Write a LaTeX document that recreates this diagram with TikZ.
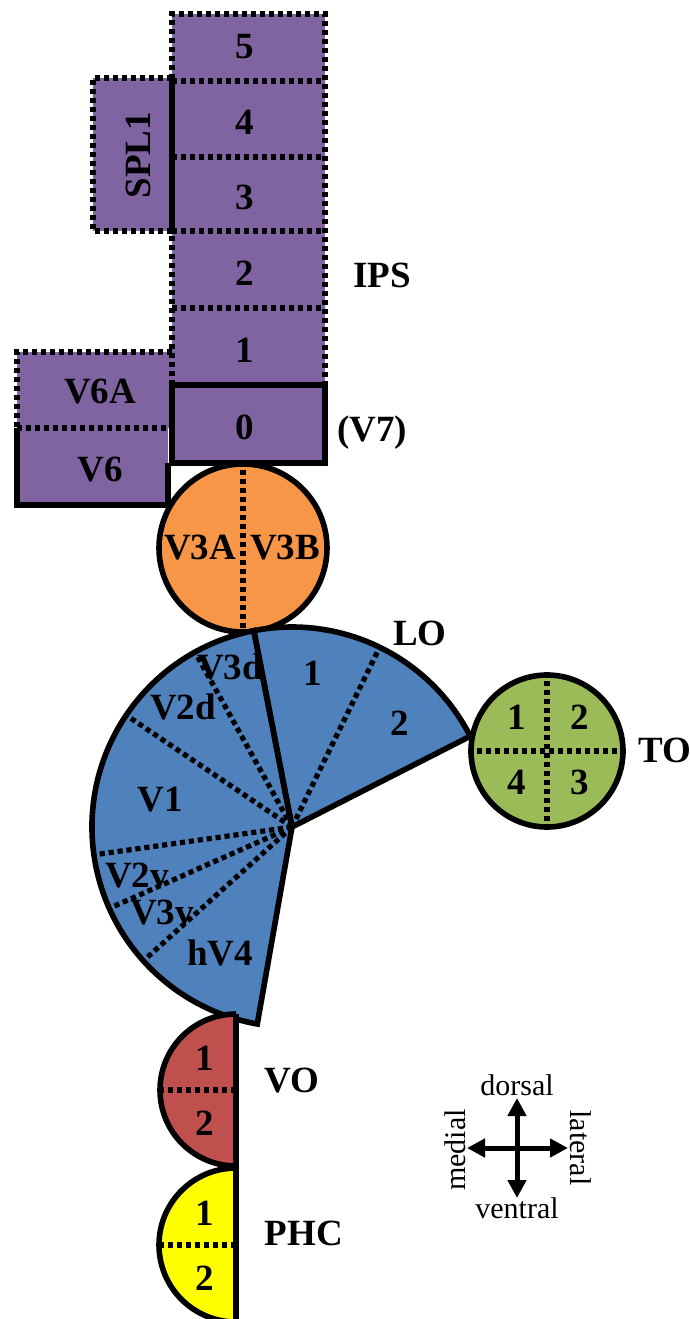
\documentclass[tikz,border=0pt]{standalone}
\usepackage{fontspec}
\setmainfont{Liberation Serif}
\usepackage{tikz}
\usetikzlibrary{arrows.meta}

\definecolor{ipspurple}{HTML}{8064A2}
\definecolor{v3orange}{HTML}{F79646}
\definecolor{eccblue}{HTML}{4F81BD}
\definecolor{togreen}{HTML}{9BBB59}
\definecolor{vored}{HTML}{C0504D}
\definecolor{phcyellow}{HTML}{FFFF00}

\begin{document}
\begin{tikzpicture}[x=0.5pt,y=0.5pt,
    thickline/.style={line width=2.8pt},
    dotline/.style={line width=2.6pt,dash pattern=on 2.6pt off 1.9pt},
    every node/.style={font=\fontsize{18.5}{20}\selectfont\bfseries},
    dirlabel/.style={font=\fontsize{15}{16}\selectfont},
    dirarrow/.style={line width=2.5pt,{Triangle[length=9pt,width=9pt]}-{Triangle[length=9pt,width=9pt]}},
    roundarea/.style={circle,draw,thickline,inner sep=0pt}]
    \useasboundingbox (0,0) rectangle (690,-1319);
    % IPS, SPL1, V6
    \fill[ipspurple] (172,-14) rectangle (325,-463);
    \fill[ipspurple] (93,-78) rectangle (172,-231);
    \fill[ipspurple] (17,-352) rectangle (172,-428);
    \fill[ipspurple] (17,-428) rectangle (168,-505);
    \draw[dotline] (172,-385) -- (172,-14) -- (325,-14) -- (325,-385);
    \foreach \y in {81,157,231,308}
        \draw[dotline] (172,-\y) -- (325,-\y);
    \draw[dotline] (172,-78) -- (93,-78) -- (93,-231) -- (172,-231);
    \draw[thickline] (172,-78) -- (172,-231);
    \draw[dotline] (172,-352) -- (17,-352) -- (17,-428);
    \draw[dotline] (17,-428) -- (168,-428);
    \draw[thickline] (17,-428) -- (17,-505) -- (168,-505) -- (168,-463);
    \draw[thickline] (172,-385) rectangle (325,-463);
    \foreach \n/\y in {5/47,4/122,3/197,2/273,1/350,0/427}
        \node (ips\n) at (245,-\y) {\n};
    \node[rotate=90] (spl1) at (138,-155) {SPL1};
    \node (v6a) at (100,-392) {V6A};
    \node (v6) at (100,-470) {V6};
    \node (ips) at (382,-275) {IPS};
    \node (v7) at (372,-433) {(V7)};
    % V3A/B
    \node[roundarea,fill=v3orange,minimum size=84pt] (v3) at (243,-548) {};
    \draw[dotline] (v3.north) -- (v3.south);
    \node (v3a) at (200,-548) {V3A};
    \node (v3b) at (285,-548) {V3B};
    % early areas and LO
    \coordinate (fov) at (292,-827);
    \fill[eccblue] (fov) -- ++(101:200) arc[start angle=101,end angle=260,radius=200] -- cycle;
    \fill[eccblue] (fov) -- ++(27:200) arc[start angle=27,end angle=101,radius=200] -- cycle;
    \foreach \a in {64,119,146,188,204,222}
        \draw[dotline] (fov) -- ++(\a:198);
    \draw[thickline] (fov) -- ++(101:200) arc[start angle=101,end angle=260,radius=200] -- cycle;
    \draw[thickline] (fov) -- ++(27:200) arc[start angle=27,end angle=101,radius=200] -- cycle;
    \node (v3d) at (230,-667) {V3d};
    \node (v2d) at (183,-707) {V2d};
    \node (v1) at (160,-800) {V1};
    \node (v2v) at (137,-876) {V2v};
    \node (v3v) at (162,-913) {V3v};
    \node (hv4) at (220,-953) {hV4};
    \node (lo1) at (313,-673) {1};
    \node (lo2) at (400,-723) {2};
    \node (lo) at (420,-633) {LO};
    % TO
    \node[roundarea,fill=togreen,minimum size=76pt] (to) at (547,-751) {};
    \draw[dotline] (to.north) -- (to.south);
    \draw[dotline] (to.west) -- (to.east);
    \node (to1) at (517,-717) {1};
    \node (to2) at (580,-717) {2};
    \node (to4) at (517,-782) {4};
    \node (to3) at (580,-782) {3};
    \node (tolabel) at (665,-750) {TO};
    % VO and PHC
    \coordinate (vo) at (236,-1090);
    \coordinate (phc) at (236,-1245);
    \coordinate (stem top) at (236,-1014);
    \coordinate (stem end) at (236,-1330);
    \fill[vored] (vo) ++(0,76) arc[start angle=90,end angle=270,radius=76] -- cycle;
    \fill[phcyellow] (phc) ++(0,77) arc[start angle=90,end angle=270,radius=77] -- cycle;
    \draw[dotline] (vo) -- ++(-76,0);
    \draw[dotline] (phc) -- ++(-77,0);
    \draw[thickline] (vo) ++(0,76) arc[start angle=90,end angle=270,radius=76];
    \draw[thickline] (phc) ++(0,77) arc[start angle=90,end angle=270,radius=77];
    \draw[thickline] (stem top) -- (stem end);
    \node (vo1) at (205,-1058) {1};
    \node (vo2) at (205,-1123) {2};
    \node (volabel) at (292,-1081) {VO};
    \node (phc1) at (205,-1213) {1};
    \node (phc2) at (205,-1278) {2};
    \node (phclabel) at (304,-1233) {PHC};
    % orientation
    \coordinate (dors) at (517,-1098);
    \coordinate (vent) at (517,-1198);
    \coordinate (med) at (467,-1148);
    \coordinate (lat) at (568,-1148);
    \draw[dirarrow] (dors) -- (vent);
    \draw[dirarrow] (med) -- (lat);
    \node[dirlabel] (dorsal) at (517,-1085) {dorsal};
    \node[dirlabel] (ventral) at (517,-1208) {ventral};
    \node[dirlabel,rotate=90] (medial) at (455,-1150) {medial};
    \node[dirlabel,rotate=-90] (lateral) at (581,-1148) {lateral};
\end{tikzpicture}
\end{document}
